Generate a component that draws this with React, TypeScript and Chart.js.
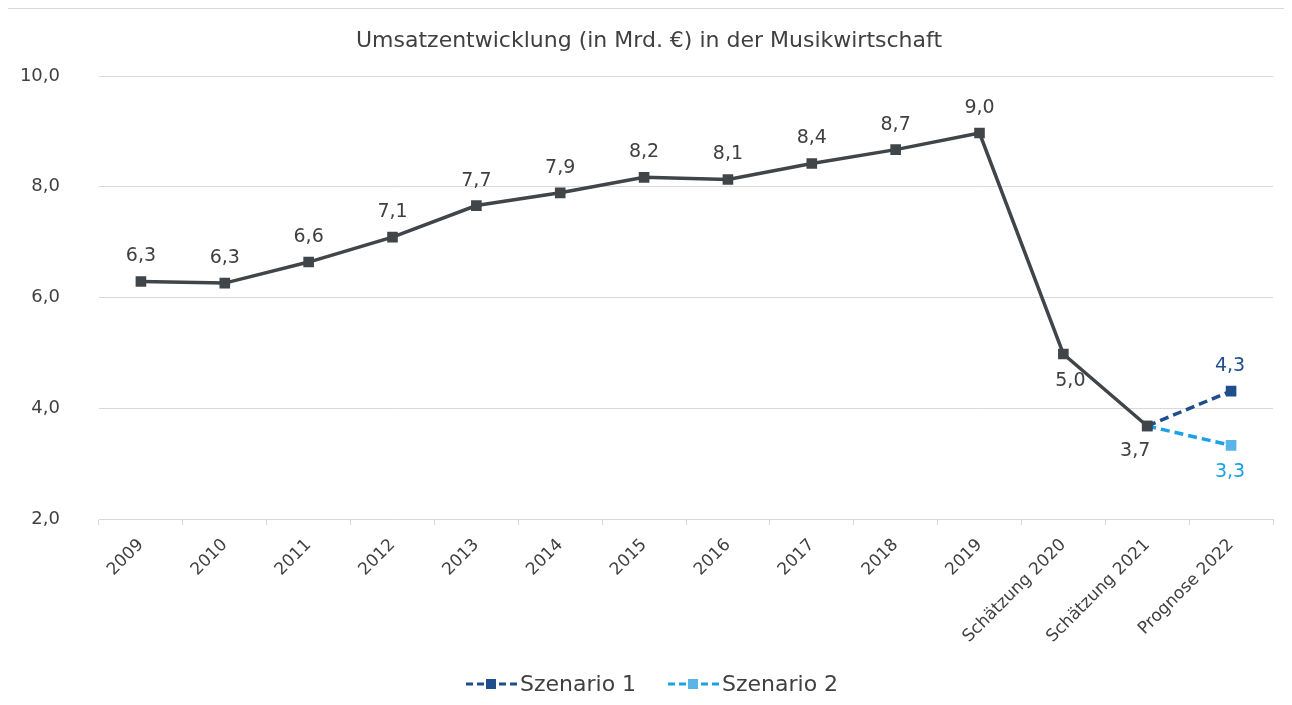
import React, { useEffect, useRef } from "react";
import { Chart, registerables } from "chart.js";

Chart.register(...registerables);

const categories = [
  "2009", "2010", "2011", "2012", "2013", "2014", "2015", "2016", "2017", "2018", "2019",
  "Schätzung 2020", "Schätzung 2021", "Prognose 2022",
];
const mainValues: (number | null)[] = [6.29, 6.26, 6.64, 7.09, 7.66, 7.89, 8.17, 8.13, 8.42, 8.67, 8.97, 4.98, 3.68, null];
const scenario1Values: (number | null)[] = [null, null, null, null, null, null, null, null, null, null, null, null, 3.68, 4.31];
const scenario2Values: (number | null)[] = [null, null, null, null, null, null, null, null, null, null, null, null, 3.68, 3.33];
const mainLabels = ["6,3", "6,3", "6,6", "7,1", "7,7", "7,9", "8,2", "8,1", "8,4", "8,7", "9,0", "5,0", "3,7", ""];
const s1Labels = ["", "", "", "", "", "", "", "", "", "", "", "", "", "4,3"];
const s2Labels = ["", "", "", "", "", "", "", "", "", "", "", "", "", "3,3"];
const yTicks = [2, 4, 6, 8, 10];
const titleText = "Umsatzentwicklung (in Mrd. €) in der Musikwirtschaft";
const legendNames = ["Szenario 1", "Szenario 2"];

const FONT = "'DejaVu Sans', sans-serif";
const TEXT = "#404040";
const MAIN = "#3f4549";
const S1 = "#1f4e8c";
const S2 = "#1aa0e6";
const S2M = "#5ab4e8";
const GRID = "#d9d9d9";

const overlay = {
  id: "overlay",
  afterDatasetsDraw(chart: any) {
    const ctx = chart.ctx;
    ctx.save();
    ctx.textAlign = "center";
    ctx.textBaseline = "middle";
    // title
    ctx.font = `22px ${FONT}`;
    ctx.fillStyle = TEXT;
    ctx.fillText(titleText, 641, 32);

    // data labels
    ctx.font = `19px ${FONT}`;
    const m0 = chart.getDatasetMeta(0);
    m0.data.forEach((pt: any, i: number) => {
      const t = mainLabels[i];
      if (!t) return;
      let dx = 0, dy = -25;
      if (i === 11) { dx = 7; dy = 27; }
      if (i === 12) { dx = -12; dy = 25; }
      ctx.fillStyle = TEXT;
      ctx.fillText(t, pt.x + dx, pt.y + dy);
    });
    const m1 = chart.getDatasetMeta(1);
    m1.data.forEach((pt: any, i: number) => {
      const t = s1Labels[i];
      if (!t) return;
      ctx.fillStyle = S1;
      ctx.fillText(t, pt.x - 1, pt.y - 25);
    });
    const m2 = chart.getDatasetMeta(2);
    m2.data.forEach((pt: any, i: number) => {
      const t = s2Labels[i];
      if (!t) return;
      ctx.fillStyle = S2;
      ctx.fillText(t, pt.x - 1, pt.y + 27);
    });

    // legend
    const ly = 675;
    const items = [
      { x: 458, name: legendNames[0], line: S1, mark: S1 },
      { x: 660, name: legendNames[1], line: S2, mark: S2M },
    ];
    ctx.font = `22px ${FONT}`;
    items.forEach((it) => {
      ctx.strokeStyle = it.line;
      ctx.lineWidth = 3;
      ctx.setLineDash([7, 4]);
      ctx.beginPath();
      ctx.moveTo(it.x, ly);
      ctx.lineTo(it.x + 51, ly);
      ctx.stroke();
      ctx.setLineDash([]);
      ctx.fillStyle = it.mark;
      ctx.fillRect(it.x + 25 - 5, ly - 5, 10, 10);
      ctx.fillStyle = TEXT;
      ctx.textAlign = "left";
      ctx.fillText(it.name, it.x + 54, ly + 1);
    });
    ctx.restore();
  },
};

export default function App() {
  const ref = useRef<HTMLCanvasElement | null>(null);
  useEffect(() => {
    if (!ref.current) return;
    const chart = new Chart(ref.current, {
      type: "line",
      data: {
        labels: categories,
        datasets: [
          {
            label: "Umsatz",
            data: mainValues,
            borderColor: MAIN,
            backgroundColor: MAIN,
            borderWidth: 3.5,
            pointStyle: "rect",
            pointRadius: 7.5,
            pointBorderWidth: 0,
            tension: 0,
          },
          {
            label: legendNames[0],
            data: scenario1Values,
            borderColor: S1,
            backgroundColor: S1,
            borderWidth: 3.5,
            borderDash: [9, 5],
            pointStyle: "rect",
            pointRadius: [0, 0, 0, 0, 0, 0, 0, 0, 0, 0, 0, 0, 7.5, 7.5],
            pointBorderWidth: 0,
            tension: 0,
          },
          {
            label: legendNames[1],
            data: scenario2Values,
            borderColor: S2,
            backgroundColor: S2M,
            borderWidth: 3.5,
            borderDash: [9, 5],
            pointStyle: "rect",
            pointRadius: [0, 0, 0, 0, 0, 0, 0, 0, 0, 0, 0, 0, 0, 7.5],
            pointBorderWidth: 0,
            tension: 0,
            order: 1,
          },
        ],
      },
      options: {
        animation: false,
        responsive: false,
        layout: { padding: { top: 67, right: 19, left: 0, bottom: 0 } },
        plugins: {
          legend: { display: false },
          title: { display: false },
          tooltip: { enabled: false },
        },
        scales: {
          x: {
            offset: true,
            grid: {
              offset: true,
              drawOnChartArea: false,
              drawTicks: true,
              tickLength: 6,
              color: GRID,
            },
            border: { display: true, color: GRID, width: 1 },
            ticks: {
              autoSkip: false,
              minRotation: 45,
              maxRotation: 45,
              color: TEXT,
              font: { family: FONT, size: 17 },
              padding: 10,
            },
            afterFit(scale: any) {
              scale.height = 186;
            },
          },
          y: {
            min: 2,
            max: 10,
            afterBuildTicks(scale: any) {
              scale.ticks = yTicks.map((v) => ({ value: v }));
            },
            grid: { color: GRID, drawTicks: false, lineWidth: 1 },
            border: { display: false },
            ticks: {
              color: TEXT,
              font: { family: FONT, size: 18 },
              padding: 39,
              callback: (v: any) => Number(v).toFixed(1).replace(".", ","),
            },
            afterFit(scale: any) {
              scale.width = 91;
            },
          },
        },
      },
      plugins: [overlay],
    });
    return () => chart.destroy();
  }, []);
  return (
    <div style={{ borderTop: `1px solid ${GRID}`, borderLeft: `2px solid ${GRID}`, width: 1284, height: 697, overflow: "hidden", marginLeft: -2 }}>
      <canvas ref={ref} width={1284} height={696} style={{ display: "block" }} />
    </div>
  );
}
